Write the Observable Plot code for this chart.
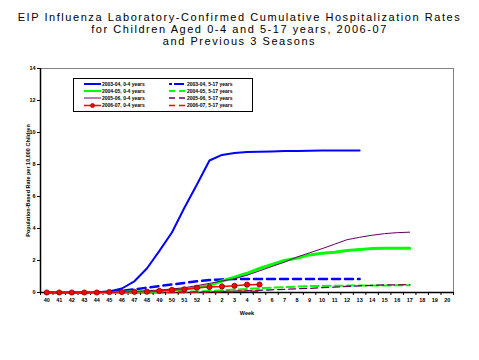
<!DOCTYPE html>
<html>
<head>
<meta charset="utf-8">
<script src="https://cdn.jsdelivr.net/npm/d3@7"></script>
<script src="https://cdn.jsdelivr.net/npm/@observablehq/plot@0.6"></script>
<style>
  html, body { margin: 0; padding: 0; background: #fff; }
  #wrap { position: relative; width: 479px; height: 360px; overflow: hidden; font-family: "Liberation Sans", Arial, sans-serif; }
  #title { height: 50px; box-sizing: border-box; padding-top: 10.5px; text-align: center; color: #000; }
  #title div { font-size: 11px; line-height: 12.4px; height: 12.4px; letter-spacing: 1.55px; white-space: nowrap; }
  #legend { position: absolute; left: 73px; top: 78px; }
  svg { display: block; }
</style>
</head>
<body>
<div id="wrap">
  <div id="title"><div>EIP Influenza Laboratory-Confirmed Cumulative Hospitalization Rates</div><div>for Children Aged 0-4 and 5-17 years, 2006-07</div><div>and Previous 3 Seasons</div></div>
  <div id="chart"></div>
  <svg id="legend" width="181" height="35"></svg>
</div>
<script>
// Categories (weeks)
const weeks = ["40","41","42","43","44","45","46","47","48","49","50","51","52",
               "1","2","3","4","5","6","7","8","9","10","11","12","13","14","15","16","17","18","19","20"];
const yTicks = [0, 2, 4, 6, 8, 10, 12, 14];

// Series labels
const seriesNames = ["2003-04, 0-4 years", "2004-05, 0-4 years", "2005-06, 0-4 years", "2006-07, 0-4 years",
                     "2003-04, 5-17 years", "2004-05, 5-17 years", "2005-06, 5-17 years", "2006-07, 5-17 years"];

// Values (rate per 10,000), starting at week 40
const s0304_04 = [0,0,0,0,0.02,0.07,0.25,0.7,1.5,2.6,3.75,5.3,6.75,8.25,8.6,8.72,8.78,8.8,8.82,8.84,8.85,8.86,8.87,8.87,8.88,8.88];
const s0405_04 = [0,0,0,0,0,0.01,0.02,0.04,0.06,0.1,0.15,0.2,0.3,0.45,0.72,0.95,1.2,1.5,1.75,2.0,2.15,2.35,2.45,2.52,2.62,2.68,2.75,2.77,2.77,2.77];
const s0506_04 = [0,0,0,0,0,0,0.03,0.06,0.1,0.15,0.22,0.3,0.43,0.57,0.72,0.86,1.08,1.35,1.63,1.9,2.22,2.48,2.74,3.02,3.3,3.45,3.58,3.68,3.74,3.77];
const s0607_04 = [0,0,0,0,0,0.03,0.03,0.04,0.05,0.1,0.16,0.2,0.3,0.34,0.38,0.42,0.49,0.5];
const s0304_517 = [0,0,0,0,0,0.03,0.1,0.2,0.3,0.4,0.5,0.6,0.7,0.78,0.82,0.84,0.85,0.85,0.85,0.85,0.85,0.85,0.85,0.85,0.85,0.85];
const s0405_517 = [0,0,0,0,0,0,0,0.01,0.02,0.03,0.04,0.05,0.06,0.1,0.14,0.18,0.22,0.27,0.3,0.33,0.37,0.4,0.41,0.42,0.43,0.43,0.44,0.44,0.45,0.46];
const s0506_517 = [0,0,0,0,0,0,0,0,0,0,0,0,0.02,0.04,0.06,0.08,0.11,0.14,0.17,0.2,0.23,0.26,0.3,0.34,0.38,0.42,0.45,0.47,0.48,0.49];
const s0607_517 = [0,0,0,0,0,0,0,0,0,0.01,0.02,0.03,0.04,0.05,0.06,0.07,0.08,0.08];

// Styles
const styles = [
  {vals: s0304_04,  stroke: "#0000FF", width: 2,   dash: null},
  {vals: s0405_04,  stroke: "#00FF00", width: 3,   dash: null},
  {vals: s0506_04,  stroke: "#660066", width: 1,   dash: null},
  {vals: s0607_04,  stroke: "#FF0000", width: 1.5, dash: null},
  {vals: s0304_517, stroke: "#0000FF", width: 2.5, dash: "8,5"},
  {vals: s0405_517, stroke: "#00FF00", width: 2,   dash: "8,4"},
  {vals: s0506_517, stroke: "#660066", width: 1.3, dash: "7,4"},
  {vals: s0607_517, stroke: "#FF0000", width: 1.5, dash: "7,5"}
];
const toRows = (vals) => vals.map((v, i) => ({i, v}));

const lineMark = (k) => {
  const s = styles[k];
  const opts = {x: "i", y: "v", stroke: s.stroke, strokeWidth: s.width, strokeLinejoin: "miter"};
  if (s.dash) opts.strokeDasharray = s.dash;
  return Plot.line(toRows(s.vals), opts);
};

const idx = d3.range(weeks.length);
const bounds = d3.range(weeks.length + 1).map(i => i - 0.5);

const plot = Plot.plot({
  width: 479,
  height: 310,
  marginLeft: 40,
  marginRight: 26,
  marginTop: 18,
  marginBottom: 68,
  style: {fontFamily: "Liberation Sans, Arial, sans-serif", background: "white", overflow: "visible"},
  x: {type: "linear", domain: [-0.5, weeks.length - 0.5]},
  y: {domain: [0, 14]},
  marks: [
    Plot.frame({stroke: "#808080", strokeWidth: 1}),
    Plot.axisY({ticks: yTicks, tickSize: 3, tickPadding: 2, fontSize: 5.5, label: "Population-Based Rate per 10,000 Children", labelAnchor: "center", labelOffset: 14, labelArrow: "none", fontWeight: "bold"}),
    Plot.axisX({ticks: idx, tickSize: 0, tickPadding: 6, fontSize: 5.5, fontWeight: "bold", tickFormat: i => weeks[i], label: "Week", labelAnchor: "center", labelOffset: 22, labelArrow: "none"}),
    Plot.axisX({ticks: bounds, tickSize: 3, tickFormat: () => "", label: null}),
    Plot.ruleX([-0.5], {stroke: "black", strokeWidth: 1.5}),
    Plot.ruleY([0], {stroke: "black", strokeWidth: 1.5}),
    lineMark(5), lineMark(6), lineMark(4), lineMark(7),
    lineMark(1), lineMark(2), lineMark(0), lineMark(3),
    Plot.dot(toRows(s0607_04), {x: "i", y: "v", r: 2.6, fill: "#FF0000", stroke: "#800000", strokeWidth: 0.8})
  ]
});
document.getElementById("chart").appendChild(plot);

// Legend
const lg = d3.select("#legend");
lg.append("rect").attr("x", 0.5).attr("y", 0.5).attr("width", 179).attr("height", 33)
  .attr("fill", "white").attr("stroke", "black").attr("stroke-width", 1);
const rowsY = [6, 13, 20, 27.5];
seriesNames.forEach((name, k) => {
  const col = k < 4 ? 0 : 1;
  const row = k % 4;
  const x0 = col === 0 ? 11 : 96;
  const y = rowsY[row];
  const s = styles[k];
  const ln = lg.append("line").attr("x1", x0).attr("x2", x0 + 17).attr("y1", y).attr("y2", y)
    .attr("stroke", s.stroke).attr("stroke-width", Math.min(s.width, 2));
  if (s.dash) ln.attr("stroke-dasharray", k === 4 ? "3,2,10,2" : "6,4");
  if (k === 3) {
    lg.append("circle").attr("cx", x0 + 8.5).attr("cy", y).attr("r", 2)
      .attr("fill", "#FF0000").attr("stroke", "#800000").attr("stroke-width", 0.7);
  }
  lg.append("text").attr("x", x0 + 18).attr("y", y).attr("dy", "0.35em")
    .attr("font-size", 5).attr("font-weight", "bold").attr("font-family", "Liberation Sans, Arial, sans-serif")
    .text(name);
});
</script>
</body>
</html>
